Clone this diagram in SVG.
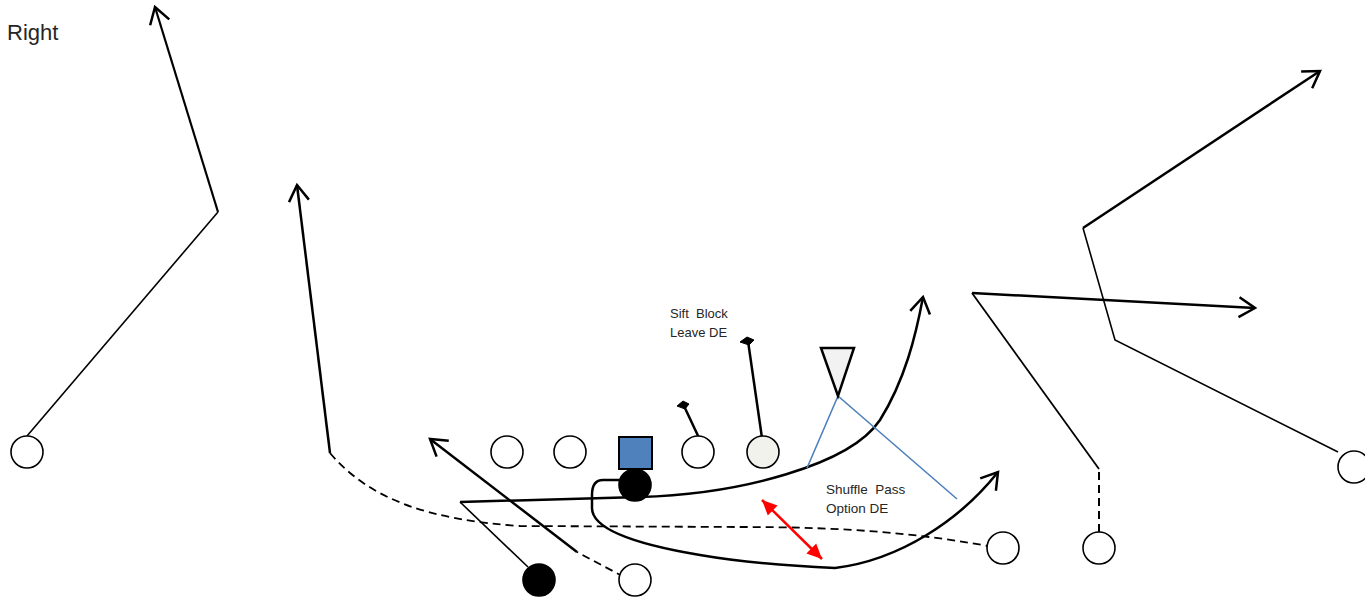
<svg xmlns="http://www.w3.org/2000/svg" width="1365" height="600" viewBox="0 0 1365 600">
<style>
.pl{fill:#fff;stroke:#000;stroke-width:1.6}
.fd{fill:#000;stroke:#000;stroke-width:1.6}
.r{fill:none;stroke:#000;stroke-width:2.5;stroke-linejoin:miter}
.t{fill:none;stroke:#000;stroke-width:1.6}
.d{fill:none;stroke:#000;stroke-width:1.8;stroke-dasharray:8 5}
.b{fill:none;stroke:#4F81BD;stroke-width:1.6}
.txt{font-family:"Liberation Sans",Arial,sans-serif;fill:#262626}
</style>
<defs>
<marker id="ah" markerUnits="userSpaceOnUse" markerWidth="30" markerHeight="30" refX="0" refY="0" viewBox="-20 -15 30 30" orient="auto">
<path d="M-16 -10 L0 0 L-16 10" fill="none" stroke="#000" stroke-width="2.5"/>
</marker>
<marker id="rh" markerUnits="userSpaceOnUse" markerWidth="30" markerHeight="30" refX="0" refY="0" viewBox="-20 -15 30 30" orient="auto-start-reverse">
<path d="M-15 -7 L0 0 L-15 7 Z" fill="#FF0000"/>
</marker>
</defs>
<rect width="1365" height="600" fill="#fff"/>
<text class="txt" x="7" y="40" font-size="22">Right</text>
<text class="txt" x="670" y="318" font-size="13" xml:space="preserve">Sift  Block</text>
<text class="txt" x="670" y="337" font-size="13">Leave DE</text>
<text class="txt" x="826" y="494" font-size="13.5" xml:space="preserve">Shuffle  Pass</text>
<text class="txt" x="826" y="513" font-size="13.5">Option DE</text>
<g id="connectors">
<polyline class="t" points="27,436 218,212"/>
<polyline class="r" points="218,212 155,7" marker-end="url(#ah)" style="stroke-width:2.2"/>
<path class="r" d="M330 453 L297 185" marker-end="url(#ah)"/>
<path class="d" d="M330 453 C370 500 430 520 520 526 L740 527 C820 527 900 530 988 546"/>
<path class="t" d="M528 567 L460 502"/>
<path class="r" d="M460 502 L640 497 C740 494 850 465 880 420 C905 380 916 335 923 297" marker-end="url(#ah)"/>
<path class="d" d="M624 577 L577 552"/>
<path class="r" d="M577 552 L430 439" marker-end="url(#ah)"/>
<path class="r" d="M621 480 L603 480 Q592 480 592 495 L592 508 C592 530 640 545 700 555 C740 562 790 566 835 568 C900 560 960 520 998 472" marker-end="url(#ah)"/>
<path class="t" style="stroke-width:2.5" d="M700 440 L684 406"/>
<polygon points="677,406 683,401 689,404 685,409" fill="#000" stroke="#000"/>
<path class="t" style="stroke-width:2.5" d="M762 438 L748 341"/>
<polygon points="740,342 747,337 754,340 749,345" fill="#000" stroke="#000"/>
<path class="b" d="M807 468 L838 396 L957 499"/>
<path d="M762 500 L822 559" stroke="#FF0000" stroke-width="2.5" fill="none" marker-start="url(#rh)" marker-end="url(#rh)"/>
<path class="d" style="stroke-width:2" d="M1099 532 L1099 469"/>
<path class="t" style="stroke-width:1.8" d="M1099 469 L972 293"/>
<path class="r" d="M972 293 L1255 308" marker-end="url(#ah)"/>
<path class="t" d="M1338 452 L1115 340 L1083 228"/>
<path class="r" d="M1083 228 L1320 71" marker-end="url(#ah)"/>
</g>
<g id="wr-left"><circle class="pl" cx="27" cy="452" r="16"/></g>
<g id="lt"><circle class="pl" cx="507" cy="452" r="16"/></g>
<g id="lg"><circle class="pl" cx="570" cy="452" r="16"/></g>
<g id="center"><rect x="619" y="437" width="33" height="32" fill="#4F81BD" stroke="#000" stroke-width="2"/></g>
<g id="rg"><circle class="pl" cx="698" cy="452" r="16"/></g>
<g id="rt"><circle cx="763" cy="452" r="16" fill="#F2F2EC" stroke="#000" stroke-width="1.6"/></g>
<g id="qb"><circle class="fd" cx="635" cy="485" r="16"/></g>
<g id="rb"><circle class="fd" cx="539" cy="580" r="16"/></g>
<g id="back"><circle class="pl" cx="635" cy="580" r="16"/></g>
<g id="slot"><circle class="pl" cx="1003" cy="548" r="16"/></g>
<g id="te"><circle class="pl" cx="1099" cy="548" r="16"/></g>
<g id="wr-right"><circle class="pl" cx="1354" cy="467" r="16"/></g>
<g id="de"><polygon points="821,348 854,348 838,396" fill="#F2F2F2" stroke="#000" stroke-width="2.5" stroke-linejoin="miter"/></g>
</svg>
